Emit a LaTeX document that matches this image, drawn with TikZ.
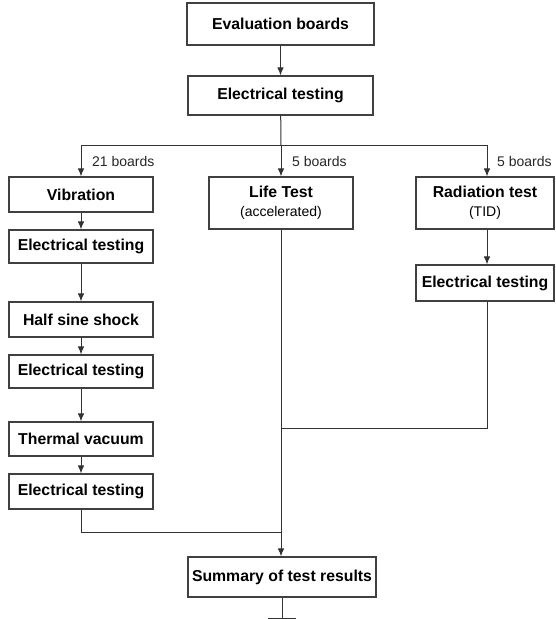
\documentclass[tikz,border=0pt]{standalone}
\usepackage{fontspec}
\setmainfont{Liberation Sans}
\usetikzlibrary{arrows.meta}
\tikzset{
  box/.style={draw=black!75, line width=1.1pt, fill=white, inner sep=0pt, align=center,
    font=\fontsize{15.8}{18}\selectfont\bfseries},
  conn/.style={draw=black!80, line width=1pt},
  arr/.style={conn, -{Latex[length=8pt,width=6.5pt]}},
  lbl/.style={anchor=west, inner sep=0pt, font=\fontsize{14}{16}\selectfont, text=black!85}
}
\begin{document}
\begin{tikzpicture}[x=1pt,y=-1pt]
\useasboundingbox (0,0) rectangle (555,619);
% nodes
\node[box, minimum width=187pt, minimum height=42pt] (eval) at (280.5,24) {Evaluation boards};
\node[box, minimum width=185pt, minimum height=39pt] (et0) at (280.5,95.5) {Electrical testing};
\node[box, minimum width=144pt, minimum height=35pt] (vib) at (81,194.5) {Vibration};
\node[box, minimum width=144pt, minimum height=33pt] (et1) at (81,246.5) {Electrical testing};
\node[box, minimum width=144pt, minimum height=35pt] (hss) at (81,319.5) {Half sine shock};
\node[box, minimum width=144pt, minimum height=33pt] (et2) at (81,371.5) {Electrical testing};
\node[box, minimum width=144pt, minimum height=34pt] (tv) at (81,439) {Thermal vacuum};
\node[box, minimum width=144pt, minimum height=35pt] (et3) at (81,491.5) {Electrical testing};
\node[box, minimum width=144pt, minimum height=52pt] (life) at (281,203) {Life Test\\[1pt]{\fontsize{14}{16}\selectfont\mdseries (accelerated)}};
\node[box, minimum width=138pt, minimum height=52pt] (rad) at (485,203) {Radiation test\\[1pt]{\fontsize{14}{16}\selectfont\mdseries (TID)}};
\node[box, minimum width=138pt, minimum height=36pt] (etr) at (485,283) {Electrical testing};
\node[box, minimum width=188pt, minimum height=40pt] (sum) at (282,577) {Summary of test results};
% labels
\node[lbl] (l21) at (92,161) {21 boards};
\node[lbl] (l5a) at (292,161) {5 boards};
\node[lbl] (l5b) at (497,161) {5 boards};
% coordinates
\coordinate (split) at (281,145);
\coordinate (mr) at (281,428);
\coordinate (ml) at (281,532);
\coordinate (bot) at (282,619);
\coordinate (botL) at (268,618);
\coordinate (botR) at (296,618);
% connectors
\draw[arr] (eval) -- (et0);
\draw[conn] (et0) -- (split);
\draw[arr] (split) -| (vib.north);
\draw[arr] (split) -- (life.north);
\draw[arr] (split) -| ([xshift=2pt]rad.north);
\draw[arr] (vib) -- (et1);
\draw[arr] (et1) -- (hss);
\draw[arr] (hss) -- (et2);
\draw[arr] (et2) -- (tv);
\draw[arr] (tv) -- (et3);
\draw[arr] ([xshift=2pt]rad.south) -- ([xshift=2pt]etr.north);
\draw[conn] ([xshift=2pt]etr.south) |- (mr);
\draw[conn] (et3.south) |- (ml);
\draw[arr] (life.south) -- (life.south |- sum.north);
\draw[conn] (sum.south) -- (bot);
\draw[conn] (botL) -- (botR);
\end{tikzpicture}
\end{document}
